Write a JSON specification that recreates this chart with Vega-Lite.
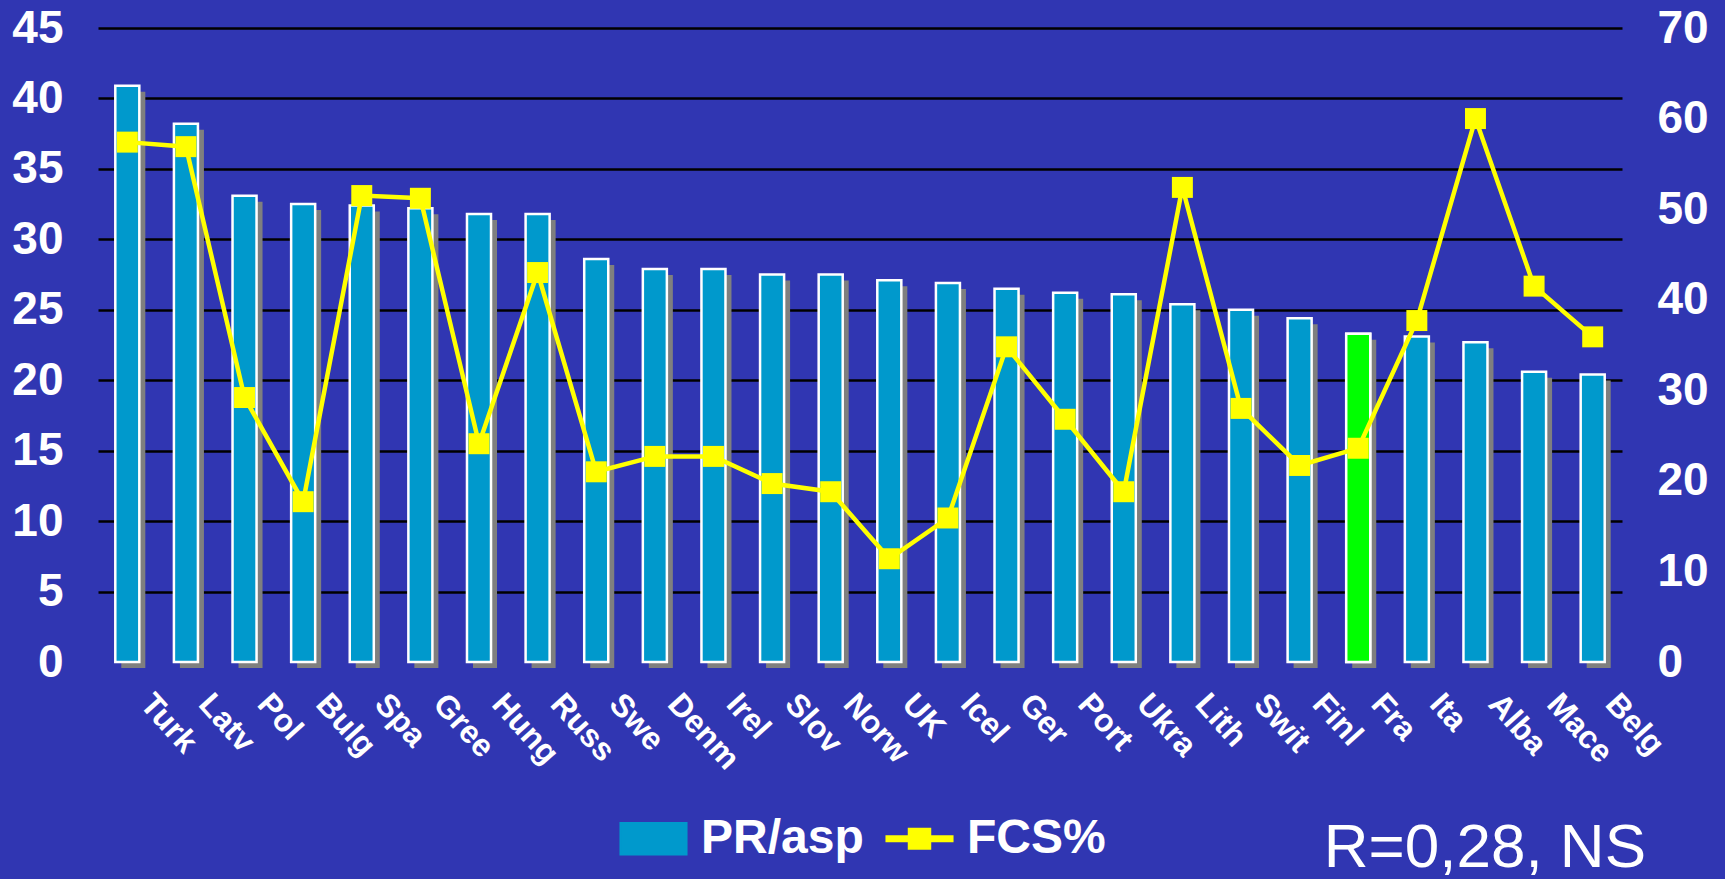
{
  "$schema": "https://vega.github.io/schema/vega-lite/v6.json",
  "width": 1524,
  "height": 634,
  "autosize": {"type": "none"},
  "padding": {"left": 98, "top": 28, "right": 103, "bottom": 217},
  "background": "#3036b2",
  "config": {"view": {"stroke": null}, "font": "Liberation Sans"},
  "title": {
    "text": "R=0,28, NS",
    "orient": "bottom",
    "anchor": "end",
    "frame": "group",
    "color": "white",
    "font": "Liberation Sans",
    "fontSize": 62,
    "fontWeight": "normal",
    "dx": 24,
    "dy": -45,
    "offset": 0
  },
  "data": {
    "values": [
      {"country": "Turk", "pr": 40.9, "fcs": 57.4},
      {"country": "Latv", "pr": 38.2, "fcs": 56.9},
      {"country": "Pol", "pr": 33.1, "fcs": 29.2},
      {"country": "Bulg", "pr": 32.5, "fcs": 17.7},
      {"country": "Spa", "pr": 32.4, "fcs": 51.5},
      {"country": "Gree", "pr": 32.2, "fcs": 51.2},
      {"country": "Hung", "pr": 31.8, "fcs": 24.1},
      {"country": "Russ", "pr": 31.8, "fcs": 43.0},
      {"country": "Swe", "pr": 28.6, "fcs": 21.0},
      {"country": "Denm", "pr": 27.9, "fcs": 22.7},
      {"country": "Irel", "pr": 27.9, "fcs": 22.7},
      {"country": "Slov", "pr": 27.5, "fcs": 19.7},
      {"country": "Norw", "pr": 27.5, "fcs": 18.8},
      {"country": "UK", "pr": 27.1, "fcs": 11.4},
      {"country": "Icel", "pr": 26.9, "fcs": 15.9},
      {"country": "Ger", "pr": 26.5, "fcs": 34.8},
      {"country": "Port", "pr": 26.2, "fcs": 26.8},
      {"country": "Ukra", "pr": 26.1, "fcs": 18.8},
      {"country": "Lith", "pr": 25.4, "fcs": 52.4},
      {"country": "Swit", "pr": 25.0, "fcs": 28.0},
      {"country": "Finl", "pr": 24.4, "fcs": 21.7},
      {"country": "Fra", "pr": 23.3, "fcs": 23.6},
      {"country": "Ita", "pr": 23.1, "fcs": 37.7},
      {"country": "Alba", "pr": 22.7, "fcs": 60.0},
      {"country": "Mace", "pr": 20.6, "fcs": 41.5},
      {"country": "Belg", "pr": 20.4, "fcs": 35.9}
    ]
  },
  "encoding": {
    "x": {
      "field": "country",
      "type": "nominal",
      "sort": null,
      "scale": {"paddingInner": 0.59, "paddingOuter": 0.295},
      "axis": {
        "title": null,
        "domain": false,
        "ticks": false,
        "grid": false,
        "labelAngle": 48,
        "labelAlign": "left",
        "labelBaseline": "top",
        "labelColor": "white",
        "labelFont": "Liberation Sans",
        "labelFontWeight": "bold",
        "labelFontSize": 32,
        "labelPadding": 26,
        "labelOffset": 30
      }
    }
  },
  "layer": [
    {
      "encoding": {
        "y": {
          "field": "pr",
          "type": "quantitative",
          "scale": {"domain": [0, 45], "nice": false},
          "axis": {
            "orient": "left",
            "title": null,
            "values": [0, 5, 10, 15, 20, 25, 30, 35, 40, 45],
            "domain": false,
            "ticks": false,
            "labelColor": "white",
            "labelFont": "Liberation Sans",
            "labelFontWeight": "bold",
            "labelFontSize": 46,
            "labelPadding": 35,
            "grid": true,
            "gridColor": {"condition": {"test": "datum.value === 0", "value": "transparent"}, "value": "black"},
            "gridWidth": 2.5,
            "gridOpacity": 1
          }
        }
      },
      "layer": [
        {
          "mark": {"type": "bar", "fill": "#7f7f7f", "xOffset": 6, "yOffset": 6, "y2Offset": 1}
        },
        {
          "mark": {"type": "bar", "stroke": "white", "strokeWidth": 2.5, "opacity": 1},
          "encoding": {
            "color": {
              "datum": "PR/asp",
              "scale": {"domain": ["PR/asp", "FCS%"], "range": ["#0099CC", "#FFFF00"]},
              "legend": {
                "title": null,
                "orient": "none",
                "legendX": 521,
                "legendY": 776,
                "direction": "horizontal",
                "padding": 0,
                "labelColor": "white",
                "labelFont": "Liberation Sans",
                "labelFontWeight": "bold",
                "labelFontSize": 48,
                "labelLimit": 400,
                "labelOffset": 13,
                "columnPadding": 17,
                "symbolSize": 4300,
                "symbolOpacity": 1,
                "encoding": {
                  "symbols": {
                    "shape": {
                      "condition": {"test": "datum.value === 'FCS%'", "value": "M-1,-0.07H-0.32V-0.3H0.32V-0.07H1V0.07H0.32V0.3H-0.32V0.07H-1Z"},
                      "value": "M-1,-0.47H1V0.47H-1Z"
                    },
                    "stroke": {
                      "condition": {"test": "datum.value === 'FCS%'", "value": "transparent"},
                      "value": "white"
                    },
                    "strokeWidth": {"value": 2.5},
                    "opacity": {"value": 1}
                  }
                }
              }
            }
          }
        },
        {
          "transform": [{"filter": "datum.country === 'Fra'"}],
          "mark": {"type": "bar", "fill": "#00FF00", "stroke": "white", "strokeWidth": 2.5}
        }
      ]
    },
    {
      "encoding": {
        "y": {
          "field": "fcs",
          "type": "quantitative",
          "scale": {"domain": [0, 70], "nice": false},
          "axis": {
            "orient": "right",
            "title": null,
            "values": [0, 10, 20, 30, 40, 50, 60, 70],
            "domain": false,
            "ticks": false,
            "grid": false,
            "labelColor": "white",
            "labelFont": "Liberation Sans",
            "labelFontWeight": "bold",
            "labelFontSize": 46,
            "labelPadding": 35
          }
        },
        "color": {"datum": "FCS%"}
      },
      "layer": [
        {"mark": {"type": "line", "strokeWidth": 4.5}},
        {"mark": {"type": "point", "shape": "square", "filled": true, "size": 440, "opacity": 1}}
      ]
    }
  ],
  "resolve": {"scale": {"y": "independent"}}
}
